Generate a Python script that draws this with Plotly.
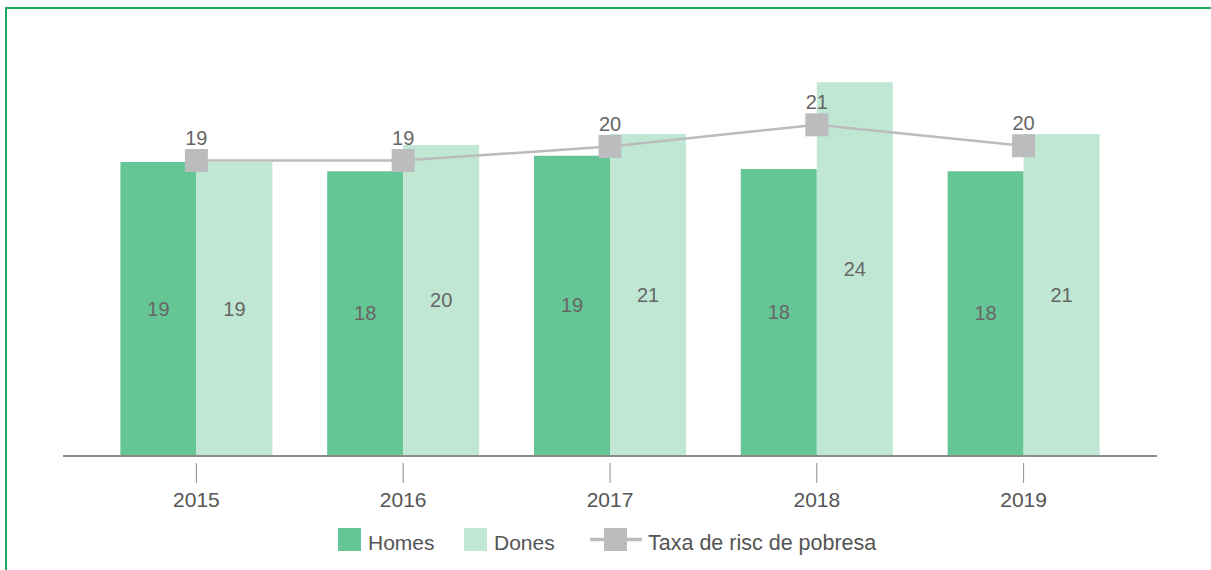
import plotly.graph_objects as go

# Dades (llegides del gràfic)
anys = ["2015", "2016", "2017", "2018", "2019"]
homes = [18.9, 18.3, 19.3, 18.45, 18.3]
dones = [18.9, 20.0, 20.7, 24.05, 20.7]
taxa = [19.0, 19.0, 19.9, 21.3, 19.95]
noms = ["Homes", "Dones", "Taxa de risc de pobresa"]

COL_HOMES = "#66C595"
COL_DONES = "#C0E6D4"
COL_TAXA = "#BBBCBE"
TXT = "#666666"
FONT = "Liberation Sans"

# àrea del gràfic en píxels
L, R, T, B = 63, 1157, 67, 455


def px(x):
    return (x - L) / (R - L)


def py(y):
    return (B - y) / (B - T)


fig = go.Figure()

fig.add_trace(go.Bar(
    x=anys, y=homes, name=noms[0],
    marker=dict(color=COL_HOMES, line=dict(width=0)),
    texttemplate="%{y:.0f}", textposition="inside", insidetextanchor="middle",
    textangle=0, textfont=dict(size=20, color=TXT, family=FONT),
))
fig.add_trace(go.Bar(
    x=anys, y=dones, name=noms[1],
    marker=dict(color=COL_DONES, line=dict(width=0)),
    texttemplate="%{y:.0f}", textposition="inside", insidetextanchor="middle",
    textangle=0, textfont=dict(size=20, color=TXT, family=FONT),
))
fig.add_trace(go.Scatter(
    x=anys, y=taxa, name=noms[2],
    mode="lines+markers",
    line=dict(color=COL_TAXA, width=2.5),
    marker=dict(symbol="square", size=23, color=COL_TAXA),
))
# etiquetes de la línia, més a prop dels marcadors
fig.add_trace(go.Scatter(
    x=anys, y=taxa, mode="markers+text", showlegend=False, hoverinfo="skip",
    marker=dict(size=15, opacity=0),
    texttemplate="%{y:.0f}", textposition="top center",
    textfont=dict(size=20, color=TXT, family=FONT),
))

shapes = []
# Marques d'eix separades de la línia base
for i in range(len(anys)):
    shapes.append(dict(
        type="line", xref="x", yref="paper",
        x0=i, x1=i, y0=py(483), y1=py(463),
        line=dict(color="#8C8C8C", width=1),
    ))

# Marc verd
shapes.append(dict(
    type="rect", xref="paper", yref="paper",
    x0=px(6), x1=px(1220), y0=py(580), y1=py(8),
    line=dict(color="#1DAA5E", width=2), fillcolor="rgba(0,0,0,0)", layer="below",
))

# Llegenda dibuixada a mà (símbols més grans)
annotations = []
ly = 539.5
for x0, col, nom in [(338, COL_HOMES, noms[0]), (464, COL_DONES, noms[1])]:
    shapes.append(dict(
        type="rect", xref="paper", yref="paper",
        x0=px(x0), x1=px(x0 + 23), y0=py(ly + 11.5), y1=py(ly - 11.5),
        fillcolor=col, line=dict(width=0),
    ))
    annotations.append(dict(
        xref="paper", yref="paper", x=px(x0 + 28), y=py(ly + 3),
        text=nom, showarrow=False, xanchor="left", yanchor="middle",
        font=dict(size=21, color="#555555", family=FONT),
    ))
shapes.append(dict(
    type="line", xref="paper", yref="paper",
    x0=px(590), x1=px(642), y0=py(ly), y1=py(ly),
    line=dict(color=COL_TAXA, width=3.5),
))
shapes.append(dict(
    type="rect", xref="paper", yref="paper",
    x0=px(604), x1=px(627), y0=py(ly + 11.5), y1=py(ly - 11.5),
    fillcolor=COL_TAXA, line=dict(width=0),
))
annotations.append(dict(
    xref="paper", yref="paper", x=px(646), y=py(ly + 3),
    text=noms[2], showarrow=False, xanchor="left", yanchor="middle",
    font=dict(size=21.5, color="#555555", family=FONT),
))

fig.update_layout(
    width=1211, height=570,
    margin=dict(l=L, r=1211 - R, t=T, b=570 - B),
    paper_bgcolor="white", plot_bgcolor="white",
    barmode="group", bargap=0.265, bargroupgap=0,
    font=dict(family=FONT, size=21, color="#555555"),
    showlegend=False,
    shapes=shapes,
    annotations=annotations,
)
fig.update_xaxes(
    range=[-0.645, 4.645], showline=True, linecolor="#8C8C8C", linewidth=1.5,
    ticks="", ticklabelstandoff=25, showgrid=False, zeroline=False,
    tickfont=dict(size=21, color="#555555", family=FONT),
)
fig.update_yaxes(range=[0, 25.03], visible=False, showgrid=False, zeroline=False)

fig.write_html("out.html", config={"displayModeBar": False},
               post_script="document.body.style.margin='0';")
